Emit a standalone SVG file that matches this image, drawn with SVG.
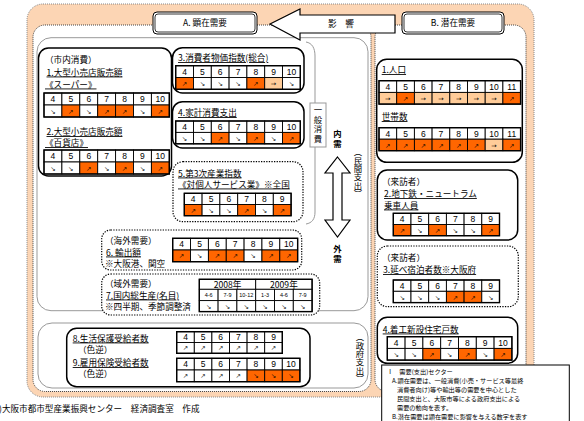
<svg xmlns="http://www.w3.org/2000/svg" width="584" height="421" viewBox="0 0 584 421">
<style>
.t{font-family:"Noto Sans CJK JP",sans-serif;font-size:8.6px;fill:#000}
.u{text-decoration:underline}
.n{font-family:"Liberation Sans",sans-serif;font-size:8.5px;text-anchor:middle;fill:#000}
.s{font-family:"Liberation Sans",sans-serif;font-size:5.5px;text-anchor:middle;fill:#000}
.a{font-family:"DejaVu Sans",sans-serif;font-size:6.5px;text-anchor:middle;fill:#000}
.c{fill:#fff;stroke:#000;stroke-width:0.9}
.o{fill:#FF6600;stroke:#000;stroke-width:0.9}
.p{fill:#FFCC99;stroke:#000;stroke-width:0.9}
.ol{fill:none;stroke:#000;stroke-width:1.4}
.box{fill:#fff;stroke:#000;stroke-width:1.5}
.dbox{fill:#fff;stroke:#000;stroke-width:1.2;stroke-dasharray:1.3 1.3}
.gray{fill:none;stroke:#999;stroke-width:1}
.v{font-family:"Noto Sans CJK JP",sans-serif;font-size:8.4px;writing-mode:vertical-rl;text-orientation:mixed;text-anchor:middle;fill:#000}
.lg{font-family:"Noto Sans CJK JP",sans-serif;font-size:6.2px;fill:#000}
</style>

<g id="frame">
<rect x="27" y="4" width="507" height="393" rx="16" fill="#FCD5B4" stroke="#888" stroke-width="1" stroke-dasharray="1 1"/>
<rect x="33" y="25" width="338" height="366.5" rx="12" fill="#fff" stroke="#444" stroke-width="1" stroke-dasharray="1 1"/>
<rect x="375" y="25" width="151" height="366.5" rx="12" fill="#fff" stroke="#444" stroke-width="1" stroke-dasharray="1 1"/>
<rect x="37" y="37.7" width="331" height="273" rx="14" class="gray"/>
<rect x="38" y="323" width="330" height="65" rx="14" class="gray"/>
</g>

<g id="connectors">
<polygon points="270,24 300,9 300,15 395,15 395,33 300,33 300,40" fill="#fff" stroke="#000" stroke-width="1.2"/>
<text class="t" x="341" y="27" text-anchor="middle">影　響</text>
<polygon points="337.5,157 350,173 342,173 342,220 350,220 337.5,237 325,220 333,220 333,173 325,173" fill="#fff" stroke="#000" stroke-width="1.2"/>
<path d="M306 42 C312 43 315 48 315 56 L315 212 C315 219 312 223 306 224" class="gray"/>
</g>

<g id="headA">
<rect x="153" y="12" width="104" height="22" rx="4" fill="#fff" stroke="#000" stroke-width="1"/>
<rect x="155" y="14" width="100" height="18" rx="3" fill="none" stroke="#000" stroke-width="0.8"/>
<text class="t" x="205" y="26" text-anchor="middle">A. 顕在需要</text>
</g>
<g id="headB">
<rect x="402" y="12" width="102" height="22" rx="4" fill="#fff" stroke="#000" stroke-width="1"/>
<rect x="404" y="14" width="98" height="18" rx="3" fill="none" stroke="#000" stroke-width="0.8"/>
<text class="t" x="453" y="26" text-anchor="middle">B. 潜在需要</text>
</g>

<g id="labels">
<rect x="310" y="103" width="16" height="44" fill="#fff" stroke="#999" stroke-width="1"/>
<text class="v" x="318" y="125" letter-spacing="1.4">一般消費</text>
<text class="v" x="337.5" y="140" font-weight="bold" letter-spacing="2">内需</text>
<text class="v" x="337.5" y="255" font-weight="bold" letter-spacing="2">外需</text>
<text class="v" x="358" y="173">（民間支出）</text>
<text class="v" x="360" y="358">（政府支出）</text>
</g>

<g id="n1">
<rect x="38.5" y="48" width="133" height="128" rx="10" class="box"/>
<text class="t" x="45" y="63">（市内消費）</text>
<text class="t u" x="46.5" y="75.5">1.大型小売店販売額</text>
<text class="t u" x="45" y="87.5">《スーパー》</text>
<rect class="c" x="44" y="93" width="17.9" height="12"/><rect class="c" x="61.9" y="93" width="17.9" height="12"/><rect class="c" x="79.8" y="93" width="17.9" height="12"/><rect class="c" x="97.7" y="93" width="17.9" height="12"/><rect class="c" x="115.6" y="93" width="17.9" height="12"/><rect class="c" x="133.5" y="93" width="17.9" height="12"/><rect class="c" x="151.4" y="93" width="17.9" height="12"/>
<rect class="c" x="44" y="105" width="17.9" height="12"/><rect class="o" x="61.9" y="105" width="17.9" height="12"/><rect class="c" x="79.8" y="105" width="17.9" height="12"/><rect class="o" x="97.7" y="105" width="17.9" height="12"/><rect class="o" x="115.6" y="105" width="17.9" height="12"/><rect class="c" x="133.5" y="105" width="17.9" height="12"/><rect class="o" x="151.4" y="105" width="17.9" height="12"/>
<rect class="ol" x="44" y="93" width="125.3" height="24"/>
<text class="n" x="52.95" y="102.2">4</text><text class="n" x="70.85" y="102.2">5</text><text class="n" x="88.75" y="102.2">6</text><text class="n" x="106.65" y="102.2">7</text><text class="n" x="124.55" y="102.2">8</text><text class="n" x="142.45" y="102.2">9</text><text class="n" x="160.35" y="102.2">10</text>
<text class="a" x="52.95" y="113.5">↘</text><text class="a" x="70.85" y="113.5">↗</text><text class="a" x="88.75" y="113.5">↘</text><text class="a" x="106.65" y="113.5">↗</text><text class="a" x="124.55" y="113.5">↗</text><text class="a" x="142.45" y="113.5">↘</text><text class="a" x="160.35" y="113.5">↗</text>
<text class="t u" x="46.5" y="135">2.大型小売店販売額</text>
<text class="t u" x="45" y="146">《百貨店》</text>
<rect class="c" x="44" y="150" width="17.9" height="12"/><rect class="c" x="61.9" y="150" width="17.9" height="12"/><rect class="c" x="79.8" y="150" width="17.9" height="12"/><rect class="c" x="97.7" y="150" width="17.9" height="12"/><rect class="c" x="115.6" y="150" width="17.9" height="12"/><rect class="c" x="133.5" y="150" width="17.9" height="12"/><rect class="c" x="151.4" y="150" width="17.9" height="12"/>
<rect class="c" x="44" y="162" width="17.9" height="12"/><rect class="c" x="61.9" y="162" width="17.9" height="12"/><rect class="o" x="79.8" y="162" width="17.9" height="12"/><rect class="c" x="97.7" y="162" width="17.9" height="12"/><rect class="o" x="115.6" y="162" width="17.9" height="12"/><rect class="c" x="133.5" y="162" width="17.9" height="12"/><rect class="o" x="151.4" y="162" width="17.9" height="12"/>
<rect class="ol" x="44" y="150" width="125.3" height="24"/>
<text class="n" x="52.95" y="159.2">4</text><text class="n" x="70.85" y="159.2">5</text><text class="n" x="88.75" y="159.2">6</text><text class="n" x="106.65" y="159.2">7</text><text class="n" x="124.55" y="159.2">8</text><text class="n" x="142.45" y="159.2">9</text><text class="n" x="160.35" y="159.2">10</text>
<text class="a" x="52.95" y="170.5">↘</text><text class="a" x="70.85" y="170.5">↘</text><text class="a" x="88.75" y="170.5">↗</text><text class="a" x="106.65" y="170.5">↘</text><text class="a" x="124.55" y="170.5">↗</text><text class="a" x="142.45" y="170.5">↘</text><text class="a" x="160.35" y="170.5">↗</text>
</g>

<g id="n3">
<rect x="172.5" y="47.7" width="131.5" height="45.3" rx="10" class="box"/>
<text class="t u" x="178" y="61">3.消費者物価指数(総合)</text>
<rect class="c" x="175.7" y="65.7" width="17.8" height="11.8"/><rect class="c" x="193.5" y="65.7" width="17.8" height="11.8"/><rect class="c" x="211.3" y="65.7" width="17.8" height="11.8"/><rect class="c" x="229.1" y="65.7" width="17.8" height="11.8"/><rect class="c" x="246.9" y="65.7" width="17.8" height="11.8"/><rect class="c" x="264.7" y="65.7" width="17.8" height="11.8"/><rect class="c" x="282.5" y="65.7" width="17.8" height="11.8"/>
<rect class="o" x="175.7" y="77.5" width="17.8" height="11.8"/><rect class="c" x="193.5" y="77.5" width="17.8" height="11.8"/><rect class="c" x="211.3" y="77.5" width="17.8" height="11.8"/><rect class="c" x="229.1" y="77.5" width="17.8" height="11.8"/><rect class="o" x="246.9" y="77.5" width="17.8" height="11.8"/><rect class="p" x="264.7" y="77.5" width="17.8" height="11.8"/><rect class="c" x="282.5" y="77.5" width="17.8" height="11.8"/>
<rect class="ol" x="175.7" y="65.7" width="124.6" height="23.6"/>
<text class="n" x="184.6" y="74.8">4</text><text class="n" x="202.4" y="74.8">5</text><text class="n" x="220.2" y="74.8">6</text><text class="n" x="238" y="74.8">7</text><text class="n" x="255.8" y="74.8">8</text><text class="n" x="273.6" y="74.8">9</text><text class="n" x="291.4" y="74.8">10</text>
<text class="a" x="184.6" y="85.9">↗</text><text class="a" x="202.4" y="85.9">↘</text><text class="a" x="220.2" y="85.9">↘</text><text class="a" x="238" y="85.9">↘</text><text class="a" x="255.8" y="85.9">↗</text><text class="a" x="273.6" y="86.2" font-size="8">→</text><text class="a" x="291.4" y="85.9">↘</text>
</g>

<g id="n4">
<rect x="172.5" y="101.7" width="131.5" height="46.3" rx="10" class="box"/>
<text class="t u" x="178" y="116">4.家計消費支出</text>
<rect class="c" x="175.7" y="121" width="17.8" height="11.4"/><rect class="c" x="193.5" y="121" width="17.8" height="11.4"/><rect class="c" x="211.3" y="121" width="17.8" height="11.4"/><rect class="c" x="229.1" y="121" width="17.8" height="11.4"/><rect class="c" x="246.9" y="121" width="17.8" height="11.4"/><rect class="c" x="264.7" y="121" width="17.8" height="11.4"/><rect class="c" x="282.5" y="121" width="17.8" height="11.4"/>
<rect class="c" x="175.7" y="132.4" width="17.8" height="11.4"/><rect class="c" x="193.5" y="132.4" width="17.8" height="11.4"/><rect class="o" x="211.3" y="132.4" width="17.8" height="11.4"/><rect class="c" x="229.1" y="132.4" width="17.8" height="11.4"/><rect class="o" x="246.9" y="132.4" width="17.8" height="11.4"/><rect class="c" x="264.7" y="132.4" width="17.8" height="11.4"/><rect class="o" x="282.5" y="132.4" width="17.8" height="11.4"/>
<rect class="ol" x="175.7" y="121" width="124.6" height="22.8"/>
<text class="n" x="184.6" y="129.9">4</text><text class="n" x="202.4" y="129.9">5</text><text class="n" x="220.2" y="129.9">6</text><text class="n" x="238" y="129.9">7</text><text class="n" x="255.8" y="129.9">8</text><text class="n" x="273.6" y="129.9">9</text><text class="n" x="291.4" y="129.9">10</text>
<text class="a" x="184.6" y="140.6">↘</text><text class="a" x="202.4" y="140.6">↘</text><text class="a" x="220.2" y="140.6">↗</text><text class="a" x="238" y="140.6">↘</text><text class="a" x="255.8" y="140.6">↗</text><text class="a" x="273.6" y="140.6">↘</text><text class="a" x="291.4" y="140.6">↗</text>
</g>

<g id="n5">
<rect x="173" y="161.7" width="130" height="60" rx="10" class="dbox"/>
<text class="t u" x="178" y="176.5">5.第3次産業指数</text>
<text class="t u" x="178" y="187.5">《対個人サービス業》<tspan style="text-decoration:none">※全国</tspan></text>
<rect class="c" x="184.3" y="193.3" width="17.8" height="11.2"/><rect class="c" x="202.1" y="193.3" width="17.8" height="11.2"/><rect class="c" x="219.9" y="193.3" width="17.8" height="11.2"/><rect class="c" x="237.7" y="193.3" width="17.8" height="11.2"/><rect class="c" x="255.5" y="193.3" width="17.8" height="11.2"/><rect class="c" x="273.3" y="193.3" width="17.8" height="11.2"/>
<rect class="o" x="184.3" y="204.5" width="17.8" height="11.2"/><rect class="c" x="202.1" y="204.5" width="17.8" height="11.2"/><rect class="c" x="219.9" y="204.5" width="17.8" height="11.2"/><rect class="o" x="237.7" y="204.5" width="17.8" height="11.2"/><rect class="c" x="255.5" y="204.5" width="17.8" height="11.2"/><rect class="o" x="273.3" y="204.5" width="17.8" height="11.2"/>
<rect class="ol" x="184.3" y="193.3" width="106.8" height="22.4"/>
<text class="n" x="193.2" y="202.1">4</text><text class="n" x="211" y="202.1">5</text><text class="n" x="228.8" y="202.1">6</text><text class="n" x="246.6" y="202.1">7</text><text class="n" x="264.4" y="202.1">8</text><text class="n" x="282.2" y="202.1">9</text>
<text class="a" x="193.2" y="212.6">↗</text><text class="a" x="211" y="212.6">↘</text><text class="a" x="228.8" y="212.6">↘</text><text class="a" x="246.6" y="212.6">↗</text><text class="a" x="264.4" y="212.6">↘</text><text class="a" x="282.2" y="212.6">↗</text>
</g>

<g id="n6">
<rect x="101.7" y="230" width="200" height="40" rx="9" class="dbox"/>
<text class="t" x="105" y="243.5">（海外需要）</text>
<text class="t u" x="106" y="255.5">6. 輸出額</text>
<text class="t" x="105" y="267">※大阪港、関空</text>
<rect class="c" x="172.7" y="238.3" width="17.85" height="11.7"/><rect class="c" x="190.55" y="238.3" width="17.85" height="11.7"/><rect class="c" x="208.4" y="238.3" width="17.85" height="11.7"/><rect class="c" x="226.25" y="238.3" width="17.85" height="11.7"/><rect class="c" x="244.1" y="238.3" width="17.85" height="11.7"/><rect class="c" x="261.95" y="238.3" width="17.85" height="11.7"/><rect class="c" x="279.8" y="238.3" width="17.85" height="11.7"/>
<rect class="o" x="172.7" y="250" width="17.85" height="11.7"/><rect class="c" x="190.55" y="250" width="17.85" height="11.7"/><rect class="o" x="208.4" y="250" width="17.85" height="11.7"/><rect class="o" x="226.25" y="250" width="17.85" height="11.7"/><rect class="c" x="244.1" y="250" width="17.85" height="11.7"/><rect class="o" x="261.95" y="250" width="17.85" height="11.7"/><rect class="o" x="279.8" y="250" width="17.85" height="11.7"/>
<rect class="ol" x="172.7" y="238.3" width="124.95" height="23.4"/>
<text class="n" x="181.6" y="247.4">4</text><text class="n" x="199.5" y="247.4">5</text><text class="n" x="217.3" y="247.4">6</text><text class="n" x="235.2" y="247.4">7</text><text class="n" x="253" y="247.4">8</text><text class="n" x="270.9" y="247.4">9</text><text class="n" x="288.7" y="247.4">10</text>
<text class="a" x="181.6" y="258.4">↗</text><text class="a" x="199.5" y="258.4">↘</text><text class="a" x="217.3" y="258.4">↗</text><text class="a" x="235.2" y="258.4">↗</text><text class="a" x="253" y="258.4">↘</text><text class="a" x="270.9" y="258.4">↗</text><text class="a" x="288.7" y="258.4">↗</text>
</g>

<g id="n7">
<rect x="101.7" y="274" width="218" height="41" rx="9" class="dbox"/>
<text class="t" x="105" y="287">（域外需要）</text>
<text class="t u" x="106" y="298.5">7.国内総生産(名目)</text>
<text class="t" x="105" y="310">※四半期、季節調整済</text>
<rect class="c" x="199.3" y="279.3" width="56.4" height="10"/><rect class="c" x="255.7" y="279.3" width="56.4" height="10"/>
<rect class="c" x="199.3" y="289.3" width="18.8" height="11.3"/><rect class="c" x="218.1" y="289.3" width="18.8" height="11.3"/><rect class="c" x="236.9" y="289.3" width="18.8" height="11.3"/><rect class="c" x="255.7" y="289.3" width="18.8" height="11.3"/><rect class="c" x="274.5" y="289.3" width="18.8" height="11.3"/><rect class="c" x="293.3" y="289.3" width="18.8" height="11.3"/>
<rect class="c" x="199.3" y="300.6" width="18.8" height="11"/><rect class="c" x="218.1" y="300.6" width="18.8" height="11"/><rect class="c" x="236.9" y="300.6" width="18.8" height="11"/><rect class="c" x="255.7" y="300.6" width="18.8" height="11"/><rect class="c" x="274.5" y="300.6" width="18.8" height="11"/><rect class="c" x="293.3" y="300.6" width="18.8" height="11"/>
<rect class="ol" x="199.3" y="279.3" width="112.8" height="32.3"/>
<text class="t" x="227.5" y="287.6" text-anchor="middle" font-size="8">2008年</text><text class="t" x="283.9" y="287.6" text-anchor="middle" font-size="8">2009年</text>
<text class="s" x="208.7" y="297">4-6</text><text class="s" x="227.5" y="297">7-9</text><text class="s" x="246.3" y="296.6" font-size="4">10-12</text><text class="s" x="265.1" y="297">1-3</text><text class="s" x="283.9" y="297">4-6</text><text class="s" x="302.7" y="297">7-9</text>
<text class="a" x="208.7" y="308.6">↘</text><text class="a" x="227.5" y="308.6">↘</text><text class="a" x="246.3" y="308.6">↘</text><text class="a" x="265.1" y="308.6">↘</text><text class="a" x="283.9" y="308.6">↘</text><text class="a" x="302.7" y="308.6">↘</text>
</g>

<g id="n8">
<rect x="66.7" y="328.3" width="243.3" height="58.4" rx="10" class="box"/>
<text class="t u" x="72.7" y="341.5">8.生活保護受給者数</text>
<text class="t" x="78" y="352.5">（色逆）</text>
<rect class="c" x="176.7" y="331.7" width="17.6" height="10.8"/><rect class="c" x="194.3" y="331.7" width="17.6" height="10.8"/><rect class="c" x="211.9" y="331.7" width="17.6" height="10.8"/><rect class="c" x="229.5" y="331.7" width="17.6" height="10.8"/><rect class="c" x="247.1" y="331.7" width="17.6" height="10.8"/><rect class="c" x="264.7" y="331.7" width="17.6" height="10.8"/>
<rect class="c" x="176.7" y="342.5" width="17.6" height="10.8"/><rect class="c" x="194.3" y="342.5" width="17.6" height="10.8"/><rect class="c" x="211.9" y="342.5" width="17.6" height="10.8"/><rect class="c" x="229.5" y="342.5" width="17.6" height="10.8"/><rect class="c" x="247.1" y="342.5" width="17.6" height="10.8"/><rect class="c" x="264.7" y="342.5" width="17.6" height="10.8"/>
<rect class="ol" x="176.7" y="331.7" width="105.6" height="21.6"/>
<text class="n" x="185.5" y="340.3">4</text><text class="n" x="203.1" y="340.3">5</text><text class="n" x="220.7" y="340.3">6</text><text class="n" x="238.3" y="340.3">7</text><text class="n" x="255.9" y="340.3">8</text><text class="n" x="273.5" y="340.3">9</text>
<text class="a" x="185.5" y="350.4">↗</text><text class="a" x="203.1" y="350.4">↗</text><text class="a" x="220.7" y="350.4">↗</text><text class="a" x="238.3" y="350.4">↗</text><text class="a" x="255.9" y="350.4">↗</text><text class="a" x="273.5" y="350.4">↗</text>
</g>
<g id="n9">
<text class="t u" x="72.7" y="366">9.雇用保険受給者数</text>
<text class="t" x="78" y="376.5">（色逆）</text>
<rect class="c" x="176.7" y="358.3" width="17.6" height="11.7"/><rect class="c" x="194.3" y="358.3" width="17.6" height="11.7"/><rect class="c" x="211.9" y="358.3" width="17.6" height="11.7"/><rect class="c" x="229.5" y="358.3" width="17.6" height="11.7"/><rect class="c" x="247.1" y="358.3" width="17.6" height="11.7"/><rect class="c" x="264.7" y="358.3" width="17.6" height="11.7"/><rect class="c" x="282.3" y="358.3" width="17.6" height="11.7"/>
<rect class="c" x="176.7" y="370" width="17.6" height="11.7"/><rect class="c" x="194.3" y="370" width="17.6" height="11.7"/><rect class="c" x="211.9" y="370" width="17.6" height="11.7"/><rect class="c" x="229.5" y="370" width="17.6" height="11.7"/><rect class="o" x="247.1" y="370" width="17.6" height="11.7"/><rect class="o" x="264.7" y="370" width="17.6" height="11.7"/><rect class="o" x="282.3" y="370" width="17.6" height="11.7"/>
<rect class="ol" x="176.7" y="358.3" width="123.2" height="23.4"/>
<text class="n" x="185.5" y="367.4">4</text><text class="n" x="203.1" y="367.4">5</text><text class="n" x="220.7" y="367.4">6</text><text class="n" x="238.3" y="367.4">7</text><text class="n" x="255.9" y="367.4">8</text><text class="n" x="273.5" y="367.4">9</text><text class="n" x="291.1" y="367.4">10</text>
<text class="a" x="185.5" y="378.4">↗</text><text class="a" x="203.1" y="378.4">↗</text><text class="a" x="220.7" y="378.4">↗</text><text class="a" x="238.3" y="378.4">↗</text><text class="a" x="255.9" y="378.4">↘</text><text class="a" x="273.5" y="378.4">↘</text><text class="a" x="291.1" y="378.4">↘</text>
</g>

<g id="b1">
<rect x="376.7" y="59.3" width="145.6" height="103" rx="10" class="box"/>
<text class="t u" x="381.7" y="73">1.人口</text>
<rect class="c" x="379" y="80.7" width="17.7" height="11.7"/><rect class="c" x="396.7" y="80.7" width="17.7" height="11.7"/><rect class="c" x="414.4" y="80.7" width="17.7" height="11.7"/><rect class="c" x="432.1" y="80.7" width="17.7" height="11.7"/><rect class="c" x="449.8" y="80.7" width="17.7" height="11.7"/><rect class="c" x="467.5" y="80.7" width="17.7" height="11.7"/><rect class="c" x="485.2" y="80.7" width="17.7" height="11.7"/><rect class="c" x="502.9" y="80.7" width="17.7" height="11.7"/>
<rect class="p" x="379" y="92.4" width="17.7" height="11.7"/><rect class="o" x="396.7" y="92.4" width="17.7" height="11.7"/><rect class="p" x="414.4" y="92.4" width="17.7" height="11.7"/><rect class="p" x="432.1" y="92.4" width="17.7" height="11.7"/><rect class="p" x="449.8" y="92.4" width="17.7" height="11.7"/><rect class="p" x="467.5" y="92.4" width="17.7" height="11.7"/><rect class="p" x="485.2" y="92.4" width="17.7" height="11.7"/><rect class="o" x="502.9" y="92.4" width="17.7" height="11.7"/>
<rect class="ol" x="379" y="80.7" width="141.6" height="23.4"/>
<text class="n" x="387.85" y="89.8">4</text><text class="n" x="405.55" y="89.8">5</text><text class="n" x="423.25" y="89.8">6</text><text class="n" x="440.95" y="89.8">7</text><text class="n" x="458.65" y="89.8">8</text><text class="n" x="476.35" y="89.8">9</text><text class="n" x="494.05" y="89.8">10</text><text class="n" x="511.75" y="89.8">11</text>
<text class="a" x="387.85" y="101.2" font-size="8">→</text><text class="a" x="405.55" y="100.8">↗</text><text class="a" x="423.25" y="101.2" font-size="8">→</text><text class="a" x="440.95" y="101.2" font-size="8">→</text><text class="a" x="458.65" y="101.2" font-size="8">→</text><text class="a" x="476.35" y="101.2" font-size="8">→</text><text class="a" x="494.05" y="101.2" font-size="8">→</text><text class="a" x="511.75" y="100.8">↗</text>
<text class="t u" x="381.7" y="120">世帯数</text>
<rect class="c" x="379" y="127.7" width="17.7" height="11.5"/><rect class="c" x="396.7" y="127.7" width="17.7" height="11.5"/><rect class="c" x="414.4" y="127.7" width="17.7" height="11.5"/><rect class="c" x="432.1" y="127.7" width="17.7" height="11.5"/><rect class="c" x="449.8" y="127.7" width="17.7" height="11.5"/><rect class="c" x="467.5" y="127.7" width="17.7" height="11.5"/><rect class="c" x="485.2" y="127.7" width="17.7" height="11.5"/><rect class="c" x="502.9" y="127.7" width="17.7" height="11.5"/>
<rect class="o" x="379" y="139.2" width="17.7" height="11.5"/><rect class="o" x="396.7" y="139.2" width="17.7" height="11.5"/><rect class="o" x="414.4" y="139.2" width="17.7" height="11.5"/><rect class="o" x="432.1" y="139.2" width="17.7" height="11.5"/><rect class="o" x="449.8" y="139.2" width="17.7" height="11.5"/><rect class="o" x="467.5" y="139.2" width="17.7" height="11.5"/><rect class="p" x="485.2" y="139.2" width="17.7" height="11.5"/><rect class="o" x="502.9" y="139.2" width="17.7" height="11.5"/>
<rect class="ol" x="379" y="127.7" width="141.6" height="23"/>
<text class="n" x="387.85" y="136.7">4</text><text class="n" x="405.55" y="136.7">5</text><text class="n" x="423.25" y="136.7">6</text><text class="n" x="440.95" y="136.7">7</text><text class="n" x="458.65" y="136.7">8</text><text class="n" x="476.35" y="136.7">9</text><text class="n" x="494.05" y="136.7">10</text><text class="n" x="511.75" y="136.7">11</text>
<text class="a" x="387.85" y="147.6">↗</text><text class="a" x="405.55" y="147.6">↗</text><text class="a" x="423.25" y="147.6">↗</text><text class="a" x="440.95" y="147.6">↗</text><text class="a" x="458.65" y="147.6">↗</text><text class="a" x="476.35" y="147.6">↗</text><text class="a" x="494.05" y="148" font-size="8">→</text><text class="a" x="511.75" y="147.6">↗</text>
</g>

<g id="b2">
<rect x="377.3" y="170" width="140.4" height="70" rx="10" class="box"/>
<text class="t" x="382" y="185">（来訪者）</text>
<text class="t u" x="384" y="197">2.地下鉄・ニュートラム</text>
<text class="t u" x="384" y="208.5">乗車人員</text>
<rect class="c" x="393.3" y="213.3" width="17.7" height="11.2"/><rect class="c" x="411" y="213.3" width="17.7" height="11.2"/><rect class="c" x="428.7" y="213.3" width="17.7" height="11.2"/><rect class="c" x="446.4" y="213.3" width="17.7" height="11.2"/><rect class="c" x="464.1" y="213.3" width="17.7" height="11.2"/><rect class="c" x="481.8" y="213.3" width="17.7" height="11.2"/>
<rect class="o" x="393.3" y="224.5" width="17.7" height="11.2"/><rect class="c" x="411" y="224.5" width="17.7" height="11.2"/><rect class="o" x="428.7" y="224.5" width="17.7" height="11.2"/><rect class="c" x="446.4" y="224.5" width="17.7" height="11.2"/><rect class="c" x="464.1" y="224.5" width="17.7" height="11.2"/><rect class="o" x="481.8" y="224.5" width="17.7" height="11.2"/>
<rect class="ol" x="393.3" y="213.3" width="106.2" height="22.4"/>
<text class="n" x="402.15" y="222.1">4</text><text class="n" x="419.85" y="222.1">5</text><text class="n" x="437.55" y="222.1">6</text><text class="n" x="455.25" y="222.1">7</text><text class="n" x="472.95" y="222.1">8</text><text class="n" x="490.65" y="222.1">9</text>
<text class="a" x="402.15" y="232.6">↗</text><text class="a" x="419.85" y="232.6">↘</text><text class="a" x="437.55" y="232.6">↗</text><text class="a" x="455.25" y="232.6">↘</text><text class="a" x="472.95" y="232.6">↘</text><text class="a" x="490.65" y="232.6">↗</text>
</g>

<g id="b3">
<rect x="377.3" y="246" width="141" height="60.7" rx="10" class="dbox"/>
<text class="t" x="382" y="260.5">（来訪者）</text>
<text class="t u" x="383" y="273">3.延べ宿泊者数※大阪府</text>
<rect class="c" x="393.3" y="280" width="17.7" height="11.3"/><rect class="c" x="411" y="280" width="17.7" height="11.3"/><rect class="c" x="428.7" y="280" width="17.7" height="11.3"/><rect class="c" x="446.4" y="280" width="17.7" height="11.3"/><rect class="c" x="464.1" y="280" width="17.7" height="11.3"/><rect class="c" x="481.8" y="280" width="17.7" height="11.3"/>
<rect class="c" x="393.3" y="291.3" width="17.7" height="11.3"/><rect class="c" x="411" y="291.3" width="17.7" height="11.3"/><rect class="c" x="428.7" y="291.3" width="17.7" height="11.3"/><rect class="o" x="446.4" y="291.3" width="17.7" height="11.3"/><rect class="o" x="464.1" y="291.3" width="17.7" height="11.3"/><rect class="c" x="481.8" y="291.3" width="17.7" height="11.3"/>
<rect class="ol" x="393.3" y="280" width="106.2" height="22.6"/>
<text class="n" x="402.15" y="288.9">4</text><text class="n" x="419.85" y="288.9">5</text><text class="n" x="437.55" y="288.9">6</text><text class="n" x="455.25" y="288.9">7</text><text class="n" x="472.95" y="288.9">8</text><text class="n" x="490.65" y="288.9">9</text>
<text class="a" x="402.15" y="299.5">↘</text><text class="a" x="419.85" y="299.5">↘</text><text class="a" x="437.55" y="299.5">↘</text><text class="a" x="455.25" y="299.5">↗</text><text class="a" x="472.95" y="299.5">↗</text><text class="a" x="490.65" y="299.5">↘</text>
</g>

<g id="b4">
<rect x="377.3" y="317.3" width="140.4" height="46" rx="10" class="box"/>
<text class="t u" x="382.7" y="332.5">4.着工新設住宅戸数</text>
<rect class="c" x="387.3" y="336.7" width="17.8" height="11.7"/><rect class="c" x="405.1" y="336.7" width="17.8" height="11.7"/><rect class="c" x="422.9" y="336.7" width="17.8" height="11.7"/><rect class="c" x="440.7" y="336.7" width="17.8" height="11.7"/><rect class="c" x="458.5" y="336.7" width="17.8" height="11.7"/><rect class="c" x="476.3" y="336.7" width="17.8" height="11.7"/><rect class="c" x="494.1" y="336.7" width="17.8" height="11.7"/>
<rect class="c" x="387.3" y="348.4" width="17.8" height="11.7"/><rect class="c" x="405.1" y="348.4" width="17.8" height="11.7"/><rect class="o" x="422.9" y="348.4" width="17.8" height="11.7"/><rect class="c" x="440.7" y="348.4" width="17.8" height="11.7"/><rect class="o" x="458.5" y="348.4" width="17.8" height="11.7"/><rect class="c" x="476.3" y="348.4" width="17.8" height="11.7"/><rect class="o" x="494.1" y="348.4" width="17.8" height="11.7"/>
<rect class="ol" x="387.3" y="336.7" width="124.6" height="23.4"/>
<text class="n" x="396.2" y="345.8">4</text><text class="n" x="414" y="345.8">5</text><text class="n" x="431.8" y="345.8">6</text><text class="n" x="449.6" y="345.8">7</text><text class="n" x="467.4" y="345.8">8</text><text class="n" x="485.2" y="345.8">9</text><text class="n" x="503" y="345.8">10</text>
<text class="a" x="396.2" y="356.8">↘</text><text class="a" x="414" y="356.8">↘</text><text class="a" x="431.8" y="356.8">↗</text><text class="a" x="449.6" y="356.8">↘</text><text class="a" x="467.4" y="356.8">↗</text><text class="a" x="485.2" y="356.8">↘</text><text class="a" x="503" y="356.8">↗</text>
</g>

<g id="legend">
<rect x="381.7" y="365" width="187.6" height="62" fill="#fff" stroke="#000" stroke-width="1"/>
<text class="lg" x="387" y="374">Ⅰ　需要(支出)セクター</text>
<text class="lg" x="392" y="383">A.顕在需要は、一般消費(小売・サービス等最終</text>
<text class="lg" x="397" y="392">消費者向け)等や輸出等の需要を中心とした</text>
<text class="lg" x="397" y="401">民間支出と、大阪市等による政府支出による</text>
<text class="lg" x="397" y="410">需要の動向を表す。</text>
<text class="lg" x="392" y="419">B.潜在需要は顕在需要に影響を与える数字を表す</text>
</g>

<g id="footer">
<text class="t" x="-1" y="412" font-size="9.8">)大阪市都市型産業振興センター　経済調査室　作成</text>
</g>
</svg>
